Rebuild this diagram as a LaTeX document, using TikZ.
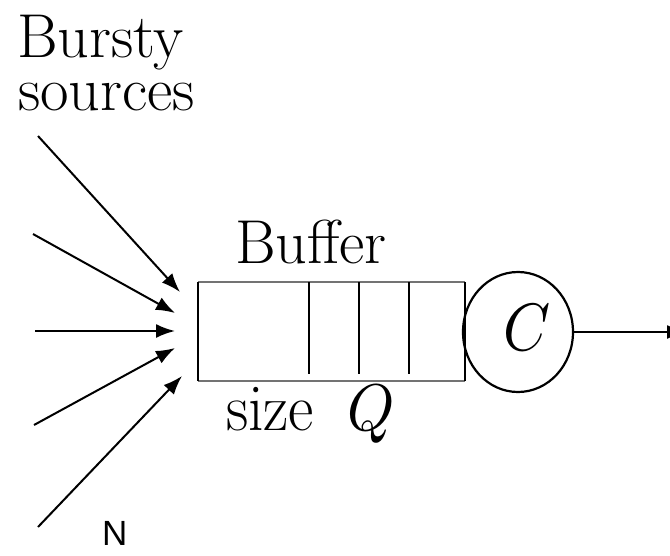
\documentclass[tikz,border=0pt]{standalone}
\usepackage{fontspec}
\newfontfamily\labelsans{Liberation Sans}
\usetikzlibrary{arrows.meta,shapes.geometric}

\tikzset{
  txt/.style={inner sep=0pt, outer sep=0pt, anchor=base west,
              font=\fontsize{62}{53}\selectfont},
  sym/.style={inner sep=0pt, outer sep=0pt, anchor=base west},
  feed/.style={line width=2pt, -{Latex[length=19pt,width=14pt]}},
  wall/.style={line width=2.4pt, black},
  rim/.style={line width=2pt, black!55},
  slot/.style={line width=2pt, black},
  server/.style={draw, line width=2.2pt, ellipse, inner sep=0pt,
                 minimum width=110pt, minimum height=120pt},
}

\begin{document}
\begin{tikzpicture}[x=1pt, y=-1pt]
  \useasboundingbox (0,0) rectangle (670,555);
  \clip (0,0) rectangle (670,555);

  % heading
  \node[txt] (bursty) at (17,57) {Bursty};
  \node[txt] (sources) at (18,110) {sources};

  % incoming traffic from the N sources
  \coordinate (s1) at (38,136);  \coordinate (t1) at (180,292);
  \coordinate (s2) at (33,234);  \coordinate (t2) at (175,313);
  \coordinate (s3) at (35,331);  \coordinate (t3) at (175,331);
  \coordinate (s4) at (34,425);  \coordinate (t4) at (175,348);
  \coordinate (s5) at (38,527);  \coordinate (t5) at (182,376);
  \foreach \i in {1,...,5} \draw[feed] (s\i) -- (t\i);

  \node[inner sep=0pt, anchor=base west, font=\labelsans\fontsize{35}{40}\selectfont]
    (nlabel) at (102,545) {N};

  % the buffer
  \coordinate (bnw) at (198,282);
  \coordinate (bne) at (465,282);
  \coordinate (bsw) at (198,381);
  \coordinate (bse) at (465,381);
  \draw[rim] (bnw) -- (bne);
  \draw[rim] (bsw) -- (bse);
  \draw[wall] (bnw) -- (bsw);
  \draw[wall] (bne) -- (bse);
  \foreach \x [count=\k] in {309,359,409} {
    \coordinate (d\k t) at (\x,282);
    \coordinate (d\k b) at (\x,374);
    \draw[slot] (d\k t) -- (d\k b);
  }

  \node[txt] (buffer) at (235,263) {Buffer};
  \node[txt] (size) at (226,430) {\scalebox{1}[1.08]{size}};
  \node[sym] (qsym) at (347,430) {\scalebox{6.0}[6.6]{$Q$}};

  % the server and its output
  \node[server] (srv) at (518,332) {};
  \node[sym] (cap) at (503,350) {\scalebox{6.0}[6.7]{$C$}};
  \coordinate (out) at (686,332);
  \draw[feed] (srv.east) -- (out);
\end{tikzpicture}
\end{document}
